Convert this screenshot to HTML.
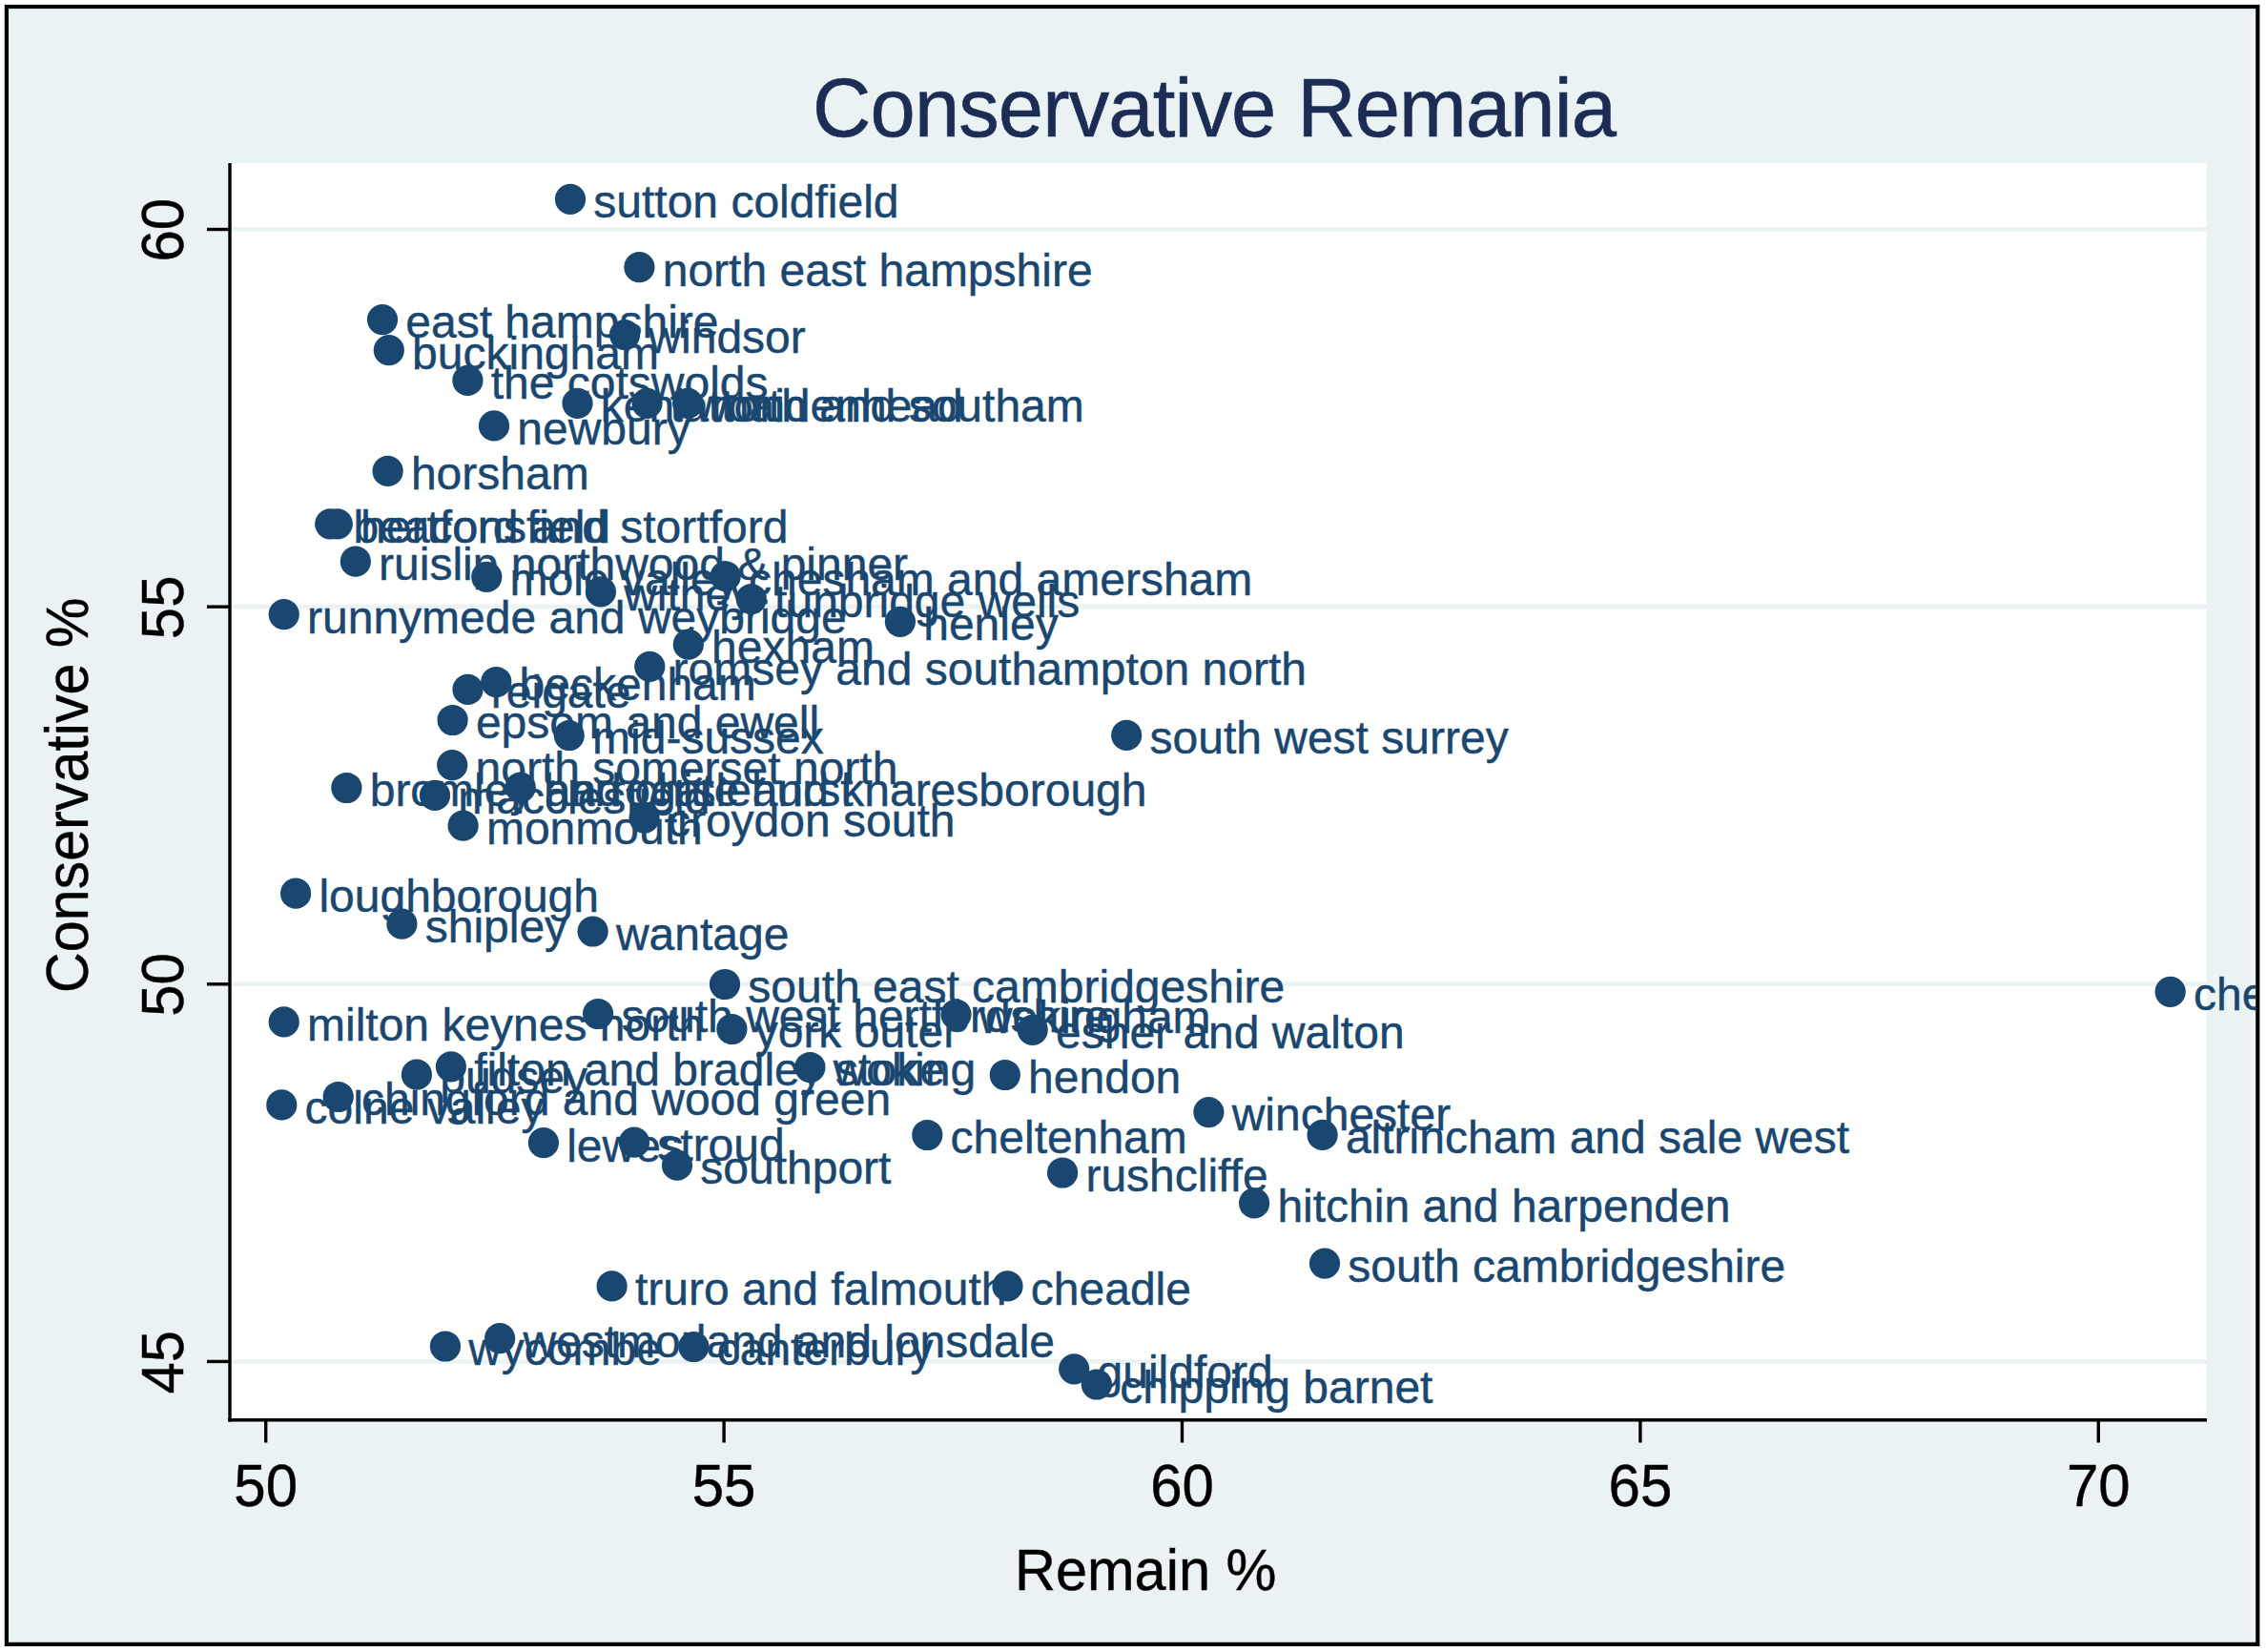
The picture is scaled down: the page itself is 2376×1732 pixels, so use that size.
<!DOCTYPE html>
<html><head><meta charset="utf-8"><title>Conservative Remania</title>
<style>html,body{margin:0;padding:0;background:#fff;overflow:hidden}svg{display:block}text{font-family:"Liberation Sans",Arial,Helvetica,sans-serif}</style></head><body>
<svg width="2376" height="1732" viewBox="0 0 2376 1732">
<defs><clipPath id="gc"><rect x="9" y="9" width="2356" height="1713"/></clipPath></defs>
<rect x="0" y="0" width="2376" height="1732" fill="#fff"/>
<rect x="6.9" y="7" width="2360.4" height="1716.9" fill="#eaf2f3"/>
<g clip-path="url(#gc)">
<rect x="241" y="171" width="2073" height="1318" fill="#fff"/>
<line x1="242" x2="2314" y1="240.5" y2="240.5" stroke="#eaf2f3" stroke-width="4.6"/>
<line x1="242" x2="2314" y1="636.15" y2="636.15" stroke="#eaf2f3" stroke-width="4.6"/>
<line x1="242" x2="2314" y1="1031.8" y2="1031.8" stroke="#eaf2f3" stroke-width="4.6"/>
<line x1="242" x2="2314" y1="1427.45" y2="1427.45" stroke="#eaf2f3" stroke-width="4.6"/>
<line x1="241" x2="241" y1="171" y2="1490.6" stroke="#000" stroke-width="3.4"/>
<line x1="239.3" x2="2314" y1="1488.8" y2="1488.8" stroke="#000" stroke-width="3.5"/>
<line x1="217" x2="241" y1="240.5" y2="240.5" stroke="#000" stroke-width="3.4"/>
<text x="0" y="0" transform="translate(192.4 241.2) rotate(-90) scale(1 1.04)" font-size="60" text-anchor="middle" stroke="#000" stroke-width="0.4">60</text>
<line x1="217" x2="241" y1="636.15" y2="636.15" stroke="#000" stroke-width="3.4"/>
<text x="0" y="0" transform="translate(192.4 636.85) rotate(-90) scale(1 1.04)" font-size="60" text-anchor="middle" stroke="#000" stroke-width="0.4">55</text>
<line x1="217" x2="241" y1="1031.8" y2="1031.8" stroke="#000" stroke-width="3.4"/>
<text x="0" y="0" transform="translate(192.4 1032.5) rotate(-90) scale(1 1.04)" font-size="60" text-anchor="middle" stroke="#000" stroke-width="0.4">50</text>
<line x1="217" x2="241" y1="1427.45" y2="1427.45" stroke="#000" stroke-width="3.4"/>
<text x="0" y="0" transform="translate(192.4 1428.15) rotate(-90) scale(1 1.04)" font-size="60" text-anchor="middle" stroke="#000" stroke-width="0.4">45</text>
<line x1="278.7" x2="278.7" y1="1489" y2="1512.5" stroke="#000" stroke-width="3.4"/>
<text x="0" y="0" transform="translate(278.7 1579) scale(1 1.04)" font-size="60" text-anchor="middle" stroke="#000" stroke-width="0.4">50</text>
<line x1="759.1" x2="759.1" y1="1489" y2="1512.5" stroke="#000" stroke-width="3.4"/>
<text x="0" y="0" transform="translate(759.1 1579) scale(1 1.04)" font-size="60" text-anchor="middle" stroke="#000" stroke-width="0.4">55</text>
<line x1="1239.5" x2="1239.5" y1="1489" y2="1512.5" stroke="#000" stroke-width="3.4"/>
<text x="0" y="0" transform="translate(1239.5 1579) scale(1 1.04)" font-size="60" text-anchor="middle" stroke="#000" stroke-width="0.4">60</text>
<line x1="1719.9" x2="1719.9" y1="1489" y2="1512.5" stroke="#000" stroke-width="3.4"/>
<text x="0" y="0" transform="translate(1719.9 1579) scale(1 1.04)" font-size="60" text-anchor="middle" stroke="#000" stroke-width="0.4">65</text>
<line x1="2200.3" x2="2200.3" y1="1489" y2="1512.5" stroke="#000" stroke-width="3.4"/>
<text x="0" y="0" transform="translate(2200.3 1579) scale(1 1.04)" font-size="60" text-anchor="middle" stroke="#000" stroke-width="0.4">70</text>
<g fill="#1a476f">
<circle cx="598" cy="208.9" r="16.1"/>
<circle cx="670.4" cy="280.2" r="16.1"/>
<circle cx="401" cy="335.1" r="16.1"/>
<circle cx="655.1" cy="351" r="16.1"/>
<circle cx="407.8" cy="367.2" r="16.1"/>
<circle cx="490.4" cy="398.9" r="16.1"/>
<circle cx="605.5" cy="422.8" r="16.1"/>
<circle cx="678.5" cy="422.8" r="16.1"/>
<circle cx="721.2" cy="422.8" r="16.1"/>
<circle cx="518" cy="446.4" r="16.1"/>
<circle cx="406.6" cy="493.9" r="16.1"/>
<circle cx="346.2" cy="549.3" r="16.1"/>
<circle cx="353.8" cy="549.3" r="16.1"/>
<circle cx="372.8" cy="588.7" r="16.1"/>
<circle cx="510.3" cy="604.9" r="16.1"/>
<circle cx="760.7" cy="604.2" r="16.1"/>
<circle cx="629.9" cy="620.4" r="16.1"/>
<circle cx="787.8" cy="628" r="16.1"/>
<circle cx="297.7" cy="644.2" r="16.1"/>
<circle cx="943.9" cy="651.8" r="16.1"/>
<circle cx="721.8" cy="675.7" r="16.1"/>
<circle cx="681.3" cy="698.8" r="16.1"/>
<circle cx="520.3" cy="715" r="16.1"/>
<circle cx="490.5" cy="722.9" r="16.1"/>
<circle cx="474.6" cy="755" r="16.1"/>
<circle cx="596.8" cy="771" r="16.1"/>
<circle cx="1181.2" cy="770.8" r="16.1"/>
<circle cx="474.2" cy="802.2" r="16.1"/>
<circle cx="363.4" cy="826" r="16.1"/>
<circle cx="456" cy="833.9" r="16.1"/>
<circle cx="545.7" cy="825.5" r="16.1"/>
<circle cx="675.6" cy="857.5" r="16.1"/>
<circle cx="485.6" cy="865.6" r="16.1"/>
<circle cx="310.1" cy="936.7" r="16.1"/>
<circle cx="421.4" cy="968.7" r="16.1"/>
<circle cx="621.6" cy="976.5" r="16.1"/>
<circle cx="760" cy="1032" r="16.1"/>
<circle cx="2275.7" cy="1039.8" r="16.1"/>
<circle cx="627.1" cy="1063" r="16.1"/>
<circle cx="1002.5" cy="1063.5" r="16.1"/>
<circle cx="297.7" cy="1071.4" r="16.1"/>
<circle cx="767.4" cy="1079" r="16.1"/>
<circle cx="1082.7" cy="1079.8" r="16.1"/>
<circle cx="472.9" cy="1118.3" r="16.1"/>
<circle cx="849.4" cy="1119" r="16.1"/>
<circle cx="436.9" cy="1126.7" r="16.1"/>
<circle cx="1053.8" cy="1127" r="16.1"/>
<circle cx="354.7" cy="1150" r="16.1"/>
<circle cx="295.3" cy="1158.4" r="16.1"/>
<circle cx="1267.4" cy="1166.1" r="16.1"/>
<circle cx="972.3" cy="1190" r="16.1"/>
<circle cx="1386.6" cy="1189.9" r="16.1"/>
<circle cx="569.9" cy="1198.2" r="16.1"/>
<circle cx="665" cy="1197.7" r="16.1"/>
<circle cx="710" cy="1221.7" r="16.1"/>
<circle cx="1114.1" cy="1229.5" r="16.1"/>
<circle cx="1315.1" cy="1261.4" r="16.1"/>
<circle cx="1389" cy="1324.6" r="16.1"/>
<circle cx="641.6" cy="1348.4" r="16.1"/>
<circle cx="1056.5" cy="1348.4" r="16.1"/>
<circle cx="524.1" cy="1403.2" r="16.1"/>
<circle cx="466.9" cy="1411.5" r="16.1"/>
<circle cx="727.4" cy="1412" r="16.1"/>
<circle cx="1126.2" cy="1435.3" r="16.1"/>
<circle cx="1149.9" cy="1451.5" r="16.1"/>
</g>
<g fill="#1a476f" stroke="#1a476f" stroke-width="0.45" font-size="48">
<text x="622.3" y="228.2">sutton coldfield</text>
<text x="694.7" y="299.5">north east hampshire</text>
<text x="425.3" y="354.4">east hampshire</text>
<text x="679.4" y="370.3">windsor</text>
<text x="432.1" y="386.5">buckingham</text>
<text x="514.7" y="418.2">the cotswolds</text>
<text x="629.8" y="442.1">kenilworth and southam</text>
<text x="702.8" y="442.1">tatton</text>
<text x="745.5" y="442.1">maidenhead</text>
<text x="542.3" y="465.7">newbury</text>
<text x="430.9" y="513.2">horsham</text>
<text x="370.5" y="568.6">beaconsfield</text>
<text x="378.1" y="568.6">hertford and stortford</text>
<text x="397.1" y="608">ruislip northwood &amp; pinner</text>
<text x="534.6" y="624.2">mole valley</text>
<text x="785" y="623.5">chesham and amersham</text>
<text x="654.2" y="639.7">witney</text>
<text x="812.1" y="647.3">tunbridge wells</text>
<text x="322" y="663.5">runnymede and weybridge</text>
<text x="968.2" y="671.1">henley</text>
<text x="746.1" y="695">hexham</text>
<text x="705.6" y="718.1">romsey and southampton north</text>
<text x="544.6" y="734.3">beckenham</text>
<text x="514.8" y="742.2">reigate</text>
<text x="498.9" y="774.3">epsom and ewell</text>
<text x="621.1" y="790.3">mid-sussex</text>
<text x="1205.5" y="790.1">south west surrey</text>
<text x="498.5" y="821.5">north somerset north</text>
<text x="387.7" y="845.3">bromley and chislehurst</text>
<text x="480.3" y="853.2">macclesfield</text>
<text x="570" y="844.8">harrogate and knaresborough</text>
<text x="699.9" y="876.8">croydon south</text>
<text x="509.9" y="884.9">monmouth</text>
<text x="334.4" y="956">loughborough</text>
<text x="445.7" y="988">shipley</text>
<text x="645.9" y="995.8">wantage</text>
<text x="784.3" y="1051.3">south east cambridgeshire</text>
<text x="2300" y="1059.1">chelsea and fulham</text>
<text x="651.4" y="1082.3">south west hertfordshire</text>
<text x="1026.8" y="1082.8">wokingham</text>
<text x="322" y="1090.7">milton keynes north</text>
<text x="791.7" y="1098.3">york outer</text>
<text x="1107" y="1099.1">esher and walton</text>
<text x="497.2" y="1137.6">filton and bradley stoke</text>
<text x="873.7" y="1138.3">woking</text>
<text x="461.2" y="1146">pudsey</text>
<text x="1078.1" y="1146.3">hendon</text>
<text x="379" y="1169.3">chingford and wood green</text>
<text x="319.6" y="1177.7">colne valley</text>
<text x="1291.7" y="1185.4">winchester</text>
<text x="996.6" y="1209.3">cheltenham</text>
<text x="1410.9" y="1209.2">altrincham and sale west</text>
<text x="594.2" y="1217.5">lewes</text>
<text x="689.3" y="1217">stroud</text>
<text x="734.3" y="1241">southport</text>
<text x="1138.4" y="1248.8">rushcliffe</text>
<text x="1339.4" y="1280.7">hitchin and harpenden</text>
<text x="1413.3" y="1343.9">south cambridgeshire</text>
<text x="665.9" y="1367.7">truro and falmouth</text>
<text x="1080.8" y="1367.7">cheadle</text>
<text x="548.4" y="1422.5">westmorland and lonsdale</text>
<text x="491.2" y="1430.8">wycombe</text>
<text x="751.7" y="1431.3">canterbury</text>
<text x="1150.5" y="1454.6">guildford</text>
<text x="1174.2" y="1470.8">chipping barnet</text>
</g>
<text x="0" y="0" transform="translate(852 143) scale(1 1.035)" font-size="85" fill="#1c2c54" stroke="#1c2c54" stroke-width="0.6" textLength="843" lengthAdjust="spacing">Conservative Remania</text>
<text x="0" y="0" transform="translate(1064 1667) scale(1 1.04)" font-size="59.5" stroke="#000" stroke-width="0.4">Remain %</text>
<text x="0" y="0" transform="translate(91.7 1041) rotate(-90) scale(1 1.05)" font-size="59.2" stroke="#000" stroke-width="0.4">Conservative %</text>
</g>
<rect x="6.9" y="7" width="2360.4" height="1716.9" fill="none" stroke="#000" stroke-width="4.2"/>
</svg></body></html>
